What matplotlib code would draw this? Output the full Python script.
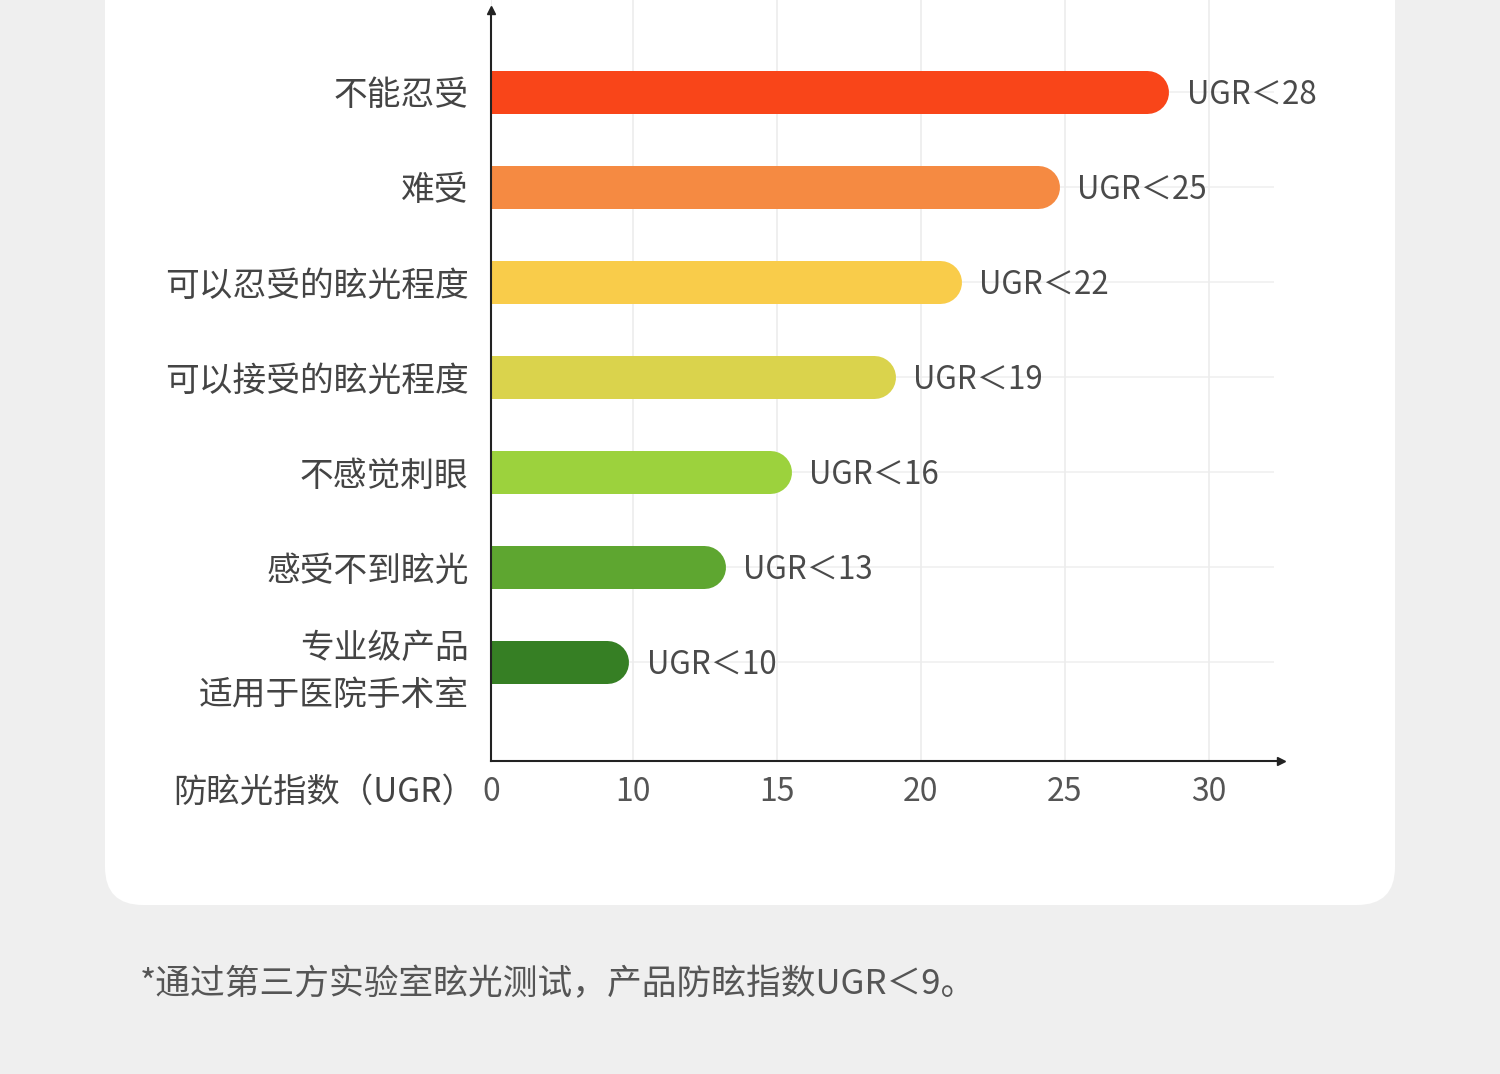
import matplotlib
matplotlib.use("Agg")
import matplotlib.pyplot as plt
from matplotlib.patches import FancyBboxPatch
import numpy as np

plt.rcParams['font.family'] = ['Noto Sans CJK SC', 'DejaVu Sans']

# categories from bottom to top
labels = ["专业级产品\n适用于医院手术室", "感受不到眩光", "不感觉刺眼", "可以接受的眩光程度",
          "可以忍受的眩光程度", "难受", "不能忍受"]
ugr = [10, 13, 16, 19, 22, 25, 28]
# bar lengths as drawn in the picture
lengths = [9.7, 13.2, 15.5, 19.1, 21.4, 24.8, 28.6]
colors = ["#367f24", "#5ea630", "#9cd23d", "#dad34c", "#f9cc4a", "#f58a42", "#f94519"]
xticks = [0, 10, 15, 20, 25, 30]
axis_name = "防眩光指数（UGR）"
note = "*通过第三方实验室眩光测试，产品防眩指数UGR＜9。"

W, H = 1500, 1074
fig = plt.figure(figsize=(W / 100, H / 100), dpi=100, facecolor="#efefef")

# white card behind the chart
bg = fig.add_axes([0, 0, 1, 1], zorder=-1)
bg.set_xlim(0, W)
bg.set_ylim(H, 0)
bg.axis("off")
bg.add_patch(FancyBboxPatch((105, -100), 1290, 1005, boxstyle="round,pad=0,rounding_size=38",
                            fc="white", ec="none"))

left, right, bottom, top = 491, 1281, 761, 0
ax = fig.add_axes([left / W, 1 - bottom / H, (right - left) / W, (bottom - top) / H])
ax.set_facecolor("none")

# 0-10 is squeezed to about half scale on the axis
k = 0.493

def fwd(x):
    x = np.asarray(x, dtype=float)
    return np.where(x < 10, x * k, x - 10 * (1 - k))

def inv(y):
    y = np.asarray(y, dtype=float)
    return np.where(y < 10 * k, y / k, y + 10 * (1 - k))

ax.set_xscale("function", functions=(fwd, inv))
ax.set_xlim(0, 32.5)
ax.set_ylim(-1.042, 6.968)

ax.set_xticks(xticks)
ax.set_xticklabels([str(t) for t in xticks])
ax.set_yticks(range(len(labels)))
ax.set_yticklabels(labels, linespacing=1.45)
ax.tick_params(axis="x", length=0, pad=11, labelsize=23, labelcolor="#555555")
ax.tick_params(axis="y", length=0, pad=16, labelsize=24.3, labelcolor="#444444")

ax.grid(axis="x", color="#ececec", lw=1.2, zorder=0)
ax.set_axisbelow(True)
ax.hlines(range(len(labels)), 0, 32.25, color="#f0f0f0", lw=1.2, zorder=0)

for s in ["top", "right"]:
    ax.spines[s].set_visible(False)
for s in ["left", "bottom"]:
    ax.spines[s].set_color("#222222")
    ax.spines[s].set_linewidth(1.5)
    ax.spines[s].set_zorder(5)
ax.spines["left"].set_bounds(-1.042, 6.863)
ax.plot(0, 6.863, "^", color="#222222", ms=6, clip_on=False, zorder=6)
ax.plot(1, 0, ">", color="#222222", ms=6, transform=ax.transAxes, clip_on=False, zorder=6)

# rounded bars: thick line with round cap, left cap clipped by the axes
bar_px = 43
lw = bar_px * 72 / 100
r = bar_px / 2
for i, (v, c, u) in enumerate(zip(lengths, colors, ugr)):
    px, py = ax.transData.transform((v, i))
    e = ax.transData.inverted().transform((px - r, py))[0]
    ax.plot([0, e], [i, i], lw=lw, color=c, solid_capstyle="round", zorder=3)
    ax.annotate("UGR＜%d" % u, xy=(v, i), xytext=(13, -2), textcoords="offset points",
                va="center", ha="left", fontsize=22.5, color="#4a4a4a")

fig.text(173 / W, 1 - 792 / H, axis_name, ha="left", va="center", fontsize=24, color="#444444")
fig.text(140 / W, 1 - 985 / H, note, ha="left", va="center", fontsize=25, color="#555555")

fig.savefig("out.png", dpi=100, facecolor=fig.get_facecolor())
